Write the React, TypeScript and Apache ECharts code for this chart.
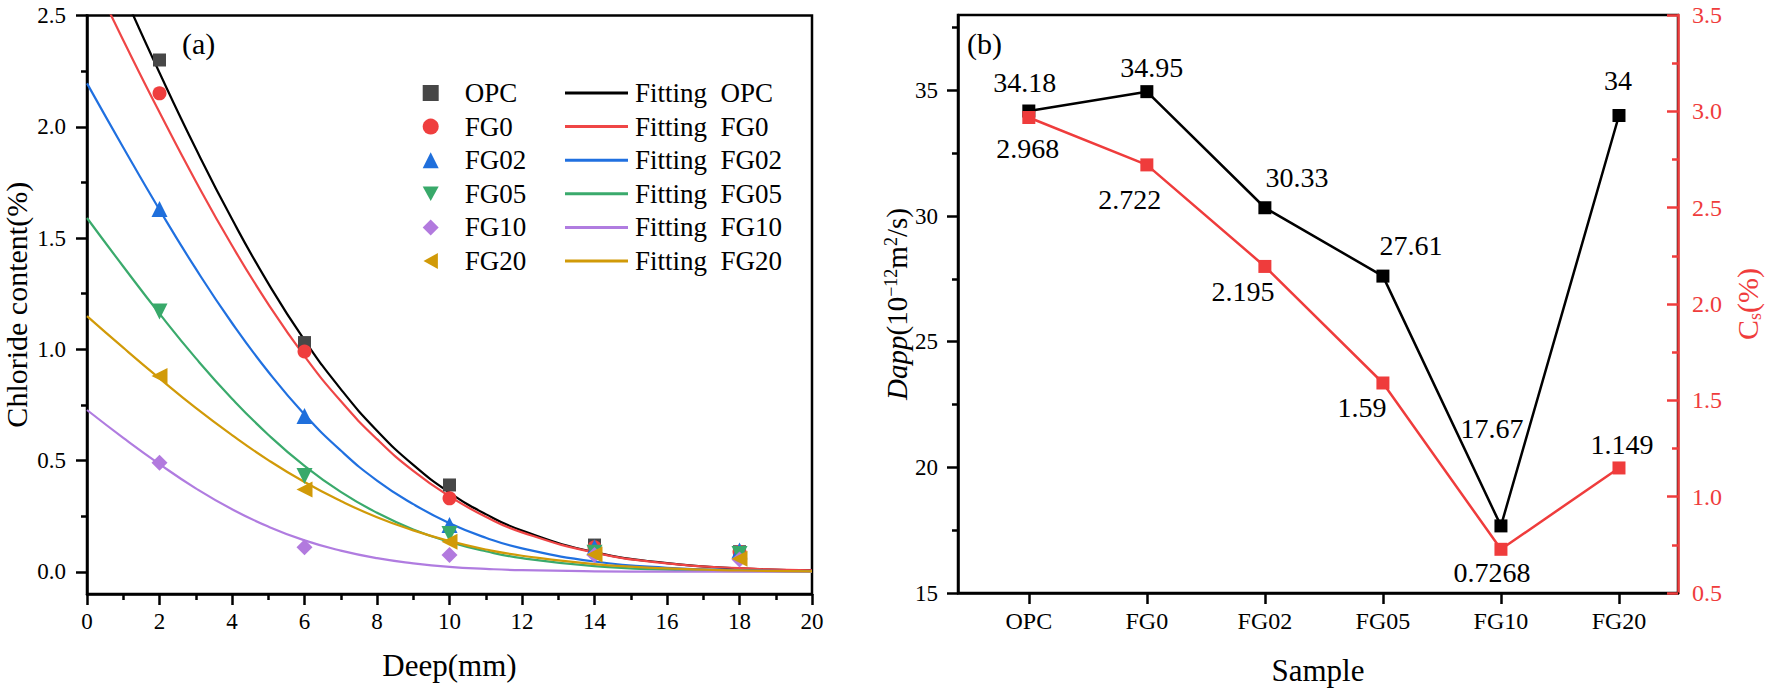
import React, { useEffect, useRef } from "react";
import * as echarts from "echarts";

// ---------- Panel (a): chloride profiles ----------
const depth = [2, 6, 10, 14, 18];
const opc = [2.3, 1.03, 0.39, 0.12, 0.09];
const fg0 = [2.15, 0.99, 0.33, 0.11, 0.09];
const fg02 = [1.63, 0.7, 0.21, 0.11, 0.095];
const fg05 = [1.17, 0.43, 0.17, 0.085, 0.08];
const fg10 = [0.49, 0.11, 0.075, 0.075, 0.055];
const fg20 = [0.88, 0.37, 0.135, 0.077, 0.058];

// fitted curves
const fitX = [0, 1, 2, 3, 4, 5, 6, 7, 8, 9, 10, 11, 12, 14, 16, 18, 20];
const fitOPC = [2.968, 2.601, 2.243, 1.902, 1.585, 1.296, 1.041, 0.821, 0.634, 0.48, 0.356, 0.259, 0.185, 0.088, 0.039, 0.015, 0.006];
const fitFG0 = [2.722, 2.389, 2.065, 1.755, 1.466, 1.203, 0.969, 0.767, 0.596, 0.453, 0.339, 0.247, 0.177, 0.086, 0.038, 0.016, 0.006];
const fitFG02 = [2.195, 1.907, 1.627, 1.362, 1.118, 0.899, 0.707, 0.545, 0.41, 0.304, 0.218, 0.153, 0.105, 0.046, 0.018, 0.007, 0.002];
const fitFG05 = [1.59, 1.372, 1.16, 0.96, 0.778, 0.616, 0.476, 0.359, 0.265, 0.19, 0.134, 0.092, 0.061, 0.025, 0.009, 0.003, 0.001];
const fitFG10 = [0.727, 0.602, 0.484, 0.375, 0.281, 0.203, 0.141, 0.095, 0.061, 0.038, 0.022, 0.013, 0.007, 0.002, 0.0004, 0.0001, 0];
const fitFG20 = [1.149, 1.007, 0.869, 0.736, 0.614, 0.502, 0.403, 0.318, 0.245, 0.186, 0.138, 0.1, 0.072, 0.034, 0.015, 0.006, 0.002];

const groupNames = ["OPC", "FG0", "FG02", "FG05", "FG10", "FG20"];
const yTicksA = [0, 0.5, 1.0, 1.5, 2.0, 2.5];
const yMinorA = [0.25, 0.75, 1.25, 1.75, 2.25];

// ---------- Panel (b) ----------
const samples = ["OPC", "FG0", "FG02", "FG05", "FG10", "FG20"];
const dapp = [34.18, 34.95, 30.33, 27.61, 17.67, 34];
const cs = [2.968, 2.722, 2.195, 1.59, 0.7268, 1.149];
const yTicksB = [15, 20, 25, 30, 35];
const yMinorB = [17.5, 22.5, 27.5, 32.5, 37.5];
const sampleIdx = [0, 1, 2, 3, 4, 5];

// label placement (style)
const dappLabelOffset = [[-4, -28], [5, -24], [32, -30], [28, -31], [-9, -97], [-1, -35]];
const csLabelOffset = [[-1, 31], [-17, 35], [-22, 25], [-21, 25], [-9, 23], [3, -23]];

const FONT = "Times New Roman";
const RED = "#ef3c3c";

const TRI_DOWN = "path://M0,0 L10,0 L5,9 Z";
const TRI_LEFT = "path://M9,0 L9,10 L0,5 Z";

export default function App() {
  const ref = useRef<HTMLDivElement>(null);
  useEffect(() => {
    if (!ref.current) return;
    const chart = echarts.init(ref.current, null, { renderer: "svg" });

    const pts = [opc, fg0, fg02, fg05, fg10, fg20];
    const fits = [fitOPC, fitFG0, fitFG02, fitFG05, fitFG10, fitFG20];
    const markerColors = ["#474747", "#ef3e3e", "#1f6fdc", "#38a96a", "#b27ade", "#d19a08"];
    const lineColors = ["#000000", "#ef4646", "#2070e0", "#3aaa6c", "#b07ce0", "#d19a08"];
    const symbols = ["rect", "circle", "triangle", TRI_DOWN, "diamond", TRI_LEFT];
    const sizes = [13, 14, 16, 16, 16, 16];

    const blackLine = { color: "#000", width: 2.5 };
    const tickStyle = { color: "#000", width: 2.5 };
    const labelBase = { color: "#000", fontFamily: FONT };

    const fitSeries = groupNames.map((g, k) => ({
      type: "line",
      name: "Fitting  " + g,
      xAxisIndex: 0,
      yAxisIndex: 0,
      data: fitX.map((x, i) => [x, fits[k][i]]),
      symbol: "none",
      showSymbol: false,
      smooth: true,
      lineStyle: { color: lineColors[k], width: 2.2 },
      itemStyle: { color: lineColors[k] },
      z: 2,
    }));
    const ptSeries = groupNames.map((g, k) => ({
      type: "scatter",
      name: g,
      xAxisIndex: 0,
      yAxisIndex: 0,
      data: depth.map((x, i) => [x, pts[k][i]]),
      symbol: symbols[k],
      symbolSize: sizes[k],
      itemStyle: { color: markerColors[k], opacity: 1 },
      z: 3,
    }));

    const option: any = {
      animation: false,
      backgroundColor: "#fff",
      textStyle: { fontFamily: FONT },
      grid: [
        { left: 85, top: 15.5, width: 727, height: 578.5, show: true, borderColor: "#000", borderWidth: 2.5, backgroundColor: "transparent" },
        { left: 958, top: 15, width: 720, height: 581, show: true, borderColor: "#000", borderWidth: 2.5, backgroundColor: "transparent" },
      ],
      xAxis: [
        {
          type: "value", gridIndex: 0, min: 0, max: 20, interval: 2,
          axisLine: { onZero: false, lineStyle: blackLine },
          axisTick: { length: 11, lineStyle: tickStyle },
          minorTick: { show: true, splitNumber: 2, length: 6, lineStyle: tickStyle },
          splitLine: { show: false },
          axisLabel: { ...labelBase, fontSize: 23, margin: 16 },
          name: "Deep(mm)", nameLocation: "middle", nameGap: 56,
          nameTextStyle: { ...labelBase, fontSize: 31 },
        },
        {
          type: "value", gridIndex: 1, min: -0.6, max: 5.5,
          axisLine: { onZero: false, lineStyle: blackLine },
          axisTick: { length: 11, lineStyle: tickStyle, customValues: sampleIdx },
          splitLine: { show: false },
          axisLabel: { ...labelBase, fontSize: 24, margin: 16, customValues: sampleIdx, formatter: (v: number) => samples[Math.round(v)] ?? "" },
          name: "Sample", nameLocation: "middle", nameGap: 62,
          nameTextStyle: { ...labelBase, fontSize: 31 },
        },
      ],
      yAxis: [
        {
          type: "value", gridIndex: 0, min: -0.1, max: 2.5, position: "left",
          axisLine: { onZero: false, lineStyle: blackLine },
          axisTick: { length: 11, lineStyle: tickStyle, customValues: yTicksA },
          splitLine: { show: false },
          axisLabel: { ...labelBase, fontSize: 23, margin: 21, customValues: yTicksA, formatter: (v: number) => v.toFixed(1) },
          name: "Chloride content(%)", nameLocation: "middle", nameGap: 56,
          nameTextStyle: { ...labelBase, fontSize: 30 },
        },
        {
          type: "value", gridIndex: 0, min: -0.1, max: 2.5, position: "left",
          axisLine: { show: false, onZero: false },
          axisTick: { length: 6, lineStyle: tickStyle, customValues: yMinorA },
          axisLabel: { show: false },
          splitLine: { show: false },
        },
        {
          type: "value", gridIndex: 1, min: 15, max: 38, position: "left",
          axisLine: { onZero: false, lineStyle: blackLine },
          axisTick: { length: 11, lineStyle: tickStyle, customValues: yTicksB },
          splitLine: { show: false },
          axisLabel: { ...labelBase, fontSize: 23, margin: 20, customValues: yTicksB },
          name: "{i|Dapp}(10{sup|−12}m{sup|2}/s)", nameLocation: "middle", nameGap: 46,
          nameTextStyle: {
            ...labelBase, fontSize: 29,
            rich: {
              i: { fontStyle: "italic", fontSize: 29, fontFamily: FONT, color: "#000" },
              sup: { fontSize: 18, fontFamily: FONT, color: "#000", verticalAlign: "top", lineHeight: 30 },
            },
          },
        },
        {
          type: "value", gridIndex: 1, min: 15, max: 38, position: "left",
          axisLine: { show: false, onZero: false },
          axisTick: { length: 6, lineStyle: tickStyle, customValues: yMinorB },
          axisLabel: { show: false },
          splitLine: { show: false },
        },
        {
          type: "value", gridIndex: 1, min: 0.5, max: 3.5, interval: 0.5, position: "right",
          axisLine: { show: true, onZero: false, lineStyle: { color: RED, width: 2.5 } },
          axisTick: { inside: true, length: 11, lineStyle: { color: RED, width: 2.5 } },
          minorTick: { show: true, splitNumber: 2, length: 6, lineStyle: { color: RED, width: 2.5 } },
          splitLine: { show: false },
          axisLabel: { color: RED, fontFamily: FONT, fontSize: 24, margin: 14, formatter: (v: number) => v.toFixed(1) },
          name: "C{sub|s}(%)", nameLocation: "middle", nameGap: 52, nameRotate: 90,
          nameTextStyle: {
            color: RED, fontFamily: FONT, fontSize: 30,
            rich: { sub: { fontSize: 18, color: RED, fontFamily: FONT, verticalAlign: "bottom", lineHeight: 34 } },
          },
        },
      ],
      legend: [
        {
          data: groupNames,
          orient: "vertical", left: 417.7, top: 74,
          itemWidth: 16, itemHeight: 16, itemGap: 5.6,
          selectedMode: false,
          textStyle: { ...labelBase, fontSize: 27, lineHeight: 28, padding: [0, 0, 0, 21] },
        },
        {
          data: groupNames.map((g) => ({ name: "Fitting  " + g, icon: "rect" })),
          orient: "vertical", left: 560, top: 74,
          itemWidth: 63, itemHeight: 3, itemGap: 5.6,
          selectedMode: false,
          textStyle: { ...labelBase, fontSize: 27, lineHeight: 28, padding: [0, 0, 0, 2] },
        },
      ],
      graphic: [
        { type: "text", left: 182, top: 28, style: { text: "(a)", fontSize: 30, fontFamily: FONT, fill: "#000" } },
        { type: "text", left: 967, top: 28, style: { text: "(b)", fontSize: 30, fontFamily: FONT, fill: "#000" } },
      ],
      series: [
        ...fitSeries,
        ...ptSeries,
        {
          type: "line", name: "Dapp", xAxisIndex: 1, yAxisIndex: 2,
          data: dapp.map((v, i) => ({ value: [sampleIdx[i], v], label: { offset: dappLabelOffset[i] } })),
          symbol: "rect", symbolSize: 13,
          lineStyle: { color: "#000", width: 2.5 },
          itemStyle: { color: "#000" },
          label: { show: true, position: "inside", ...labelBase, fontSize: 28, formatter: (p: any) => String(p.value[1]) },
          z: 3,
        },
        {
          type: "line", name: "Cs", xAxisIndex: 1, yAxisIndex: 4,
          data: cs.map((v, i) => ({ value: [sampleIdx[i], v], label: { offset: csLabelOffset[i] } })),
          symbol: "rect", symbolSize: 13,
          lineStyle: { color: RED, width: 2.5 },
          itemStyle: { color: RED },
          label: { show: true, position: "inside", ...labelBase, fontSize: 28, formatter: (p: any) => String(p.value[1]) },
          z: 4,
        },
      ],
    };
    chart.setOption(option);
    return () => chart.dispose();
  }, []);

  return (
    <div
      ref={ref}
      style={{ position: "absolute", left: 0, top: 0, width: 1769, height: 691, background: "#fff" }}
    />
  );
}
